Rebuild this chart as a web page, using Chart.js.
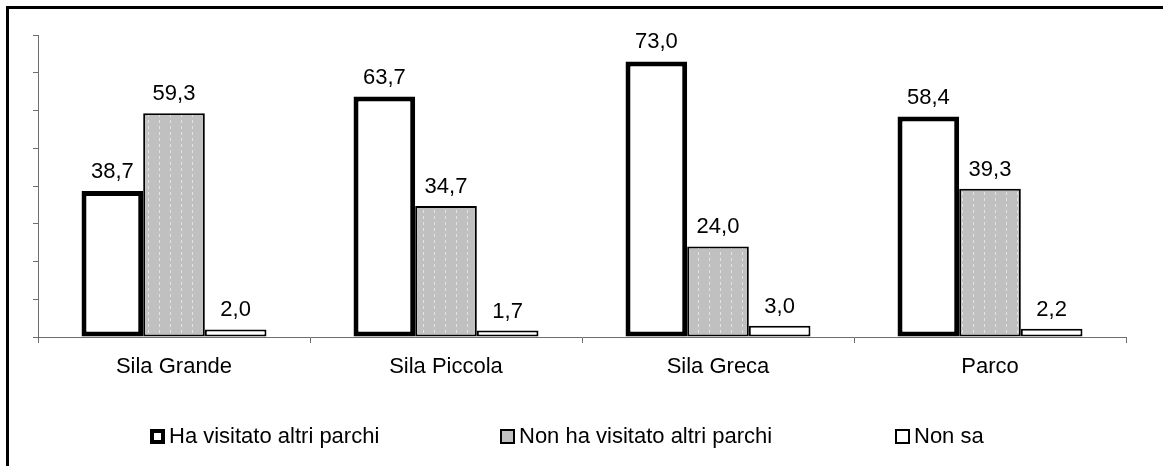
<!DOCTYPE html>
<html>
<head>
<meta charset="utf-8">
<script src="https://cdn.jsdelivr.net/npm/chart.js@4/dist/chart.umd.min.js"></script>
<style>
  html, body { margin: 0; padding: 0; background: #fff; }
  #wrap { position: relative; width: 1163px; height: 466px; overflow: hidden; font-family: "Liberation Sans", Arial, sans-serif; }
  #frame { position: absolute; left: 6px; top: 6px; width: 1200px; height: 500px; border-left: 3px solid #000; border-top: 3px solid #000; box-sizing: border-box; }
  canvas { position: absolute; left: 0; top: 0; }
  .lg { position: absolute; top: 424px; font-size: 22px; color: #000; line-height: 24px; white-space: nowrap; }
  .lg .box { display: inline-block; width: 15px; height: 15px; box-sizing: border-box; border: 2px solid #000; vertical-align: -1px; margin-right: 4px; }
</style>
</head>
<body>
<div id="wrap">
  <div id="frame"></div>
  <canvas id="c" width="1163" height="466"></canvas>
  <div id="legend"></div>
</div>
<script>
const categories = ["Sila Grande", "Sila Piccola", "Sila Greca", "Parco"];
const seriesNames = ["Ha visitato altri parchi", "Non ha visitato altri parchi", "Non sa"];
const haVisitato = [38.7, 63.7, 73.0, 58.4];
const nonHaVisitato = [59.3, 34.7, 24.0, 39.3];
const nonSa = [2.0, 1.7, 3.0, 2.2];
const yMin = 0, yMax = 80, yStep = 10;

const FONT = '"Liberation Sans", Arial, sans-serif';

function makePattern() {
  const p = document.createElement('canvas');
  p.width = 11; p.height = 6;
  const g = p.getContext('2d');
  g.fillStyle = '#c0c0c0';
  g.fillRect(0, 0, 11, 6);
  g.fillStyle = '#e4e4e4';
  g.fillRect(5, 0, 1, 3);
  return g.createPattern(p, 'repeat');
}
const ctx = document.getElementById('c').getContext('2d');
const grayPattern = makePattern();

const valueLabels = {
  id: 'valueLabels',
  afterDatasetsDraw(chart) {
    const c = chart.ctx;
    c.save();
    c.font = '22px ' + FONT;
    c.fillStyle = '#000';
    c.textAlign = 'center';
    c.textBaseline = 'alphabetic';
    chart.data.datasets.forEach((ds, i) => {
      const meta = chart.getDatasetMeta(i);
      meta.data.forEach((el, j) => {
        const v = ds.data[j];
        c.fillText(v.toFixed(1).replace('.', ','), el.x, el.y - 13);
      });
    });
    c.restore();
  }
};

new Chart(ctx, {
  type: 'bar',
  data: {
    labels: categories,
    datasets: [
      { label: seriesNames[0], data: haVisitato, backgroundColor: '#ffffff', borderColor: '#000', borderWidth: 5, borderSkipped: false },
      { label: seriesNames[1], data: nonHaVisitato, backgroundColor: grayPattern, borderColor: '#000', borderWidth: 2, borderSkipped: false },
      { label: seriesNames[2], data: nonSa, backgroundColor: '#ffffff', borderColor: '#000', borderWidth: 2, borderSkipped: false }
    ]
  },
  options: {
    responsive: false,
    animation: false,
    events: [],
    categoryPercentage: 0.68,
    barPercentage: 1.0,
    layout: { padding: { left: 0, top: 35, right: 37, bottom: 69 } },
    plugins: { legend: { display: false }, tooltip: { enabled: false } },
    scales: {
      x: {
        grid: { offset: true, drawOnChartArea: false, drawTicks: true, tickLength: 6, color: '#6e6e6e', lineWidth: 1 },
        border: { display: true, color: '#6e6e6e', width: 1 },
        ticks: { color: '#000', font: { family: FONT, size: 22 }, padding: 11, maxRotation: 0 },
        afterFit(s) { s.height = 60; }
      },
      y: {
        min: yMin, max: yMax,
        ticks: { display: false, stepSize: yStep },
        grid: { drawOnChartArea: false, drawTicks: true, tickLength: 5, color: '#6e6e6e', lineWidth: 1 },
        border: { display: true, color: '#6e6e6e', width: 1 },
        afterFit(s) { s.width = 38; }
      }
    }
  },
  plugins: [valueLabels]
});

// HTML legend
const legendStyles = [
  { left: 150, box: 'border:4px solid #000;background:#fff;' },
  { left: 500, box: 'border:2px solid #000;background:#c0c0c0;' },
  { left: 895, box: 'border:2px solid #000;background:#fff;' }
];
const lg = document.getElementById('legend');
seriesNames.forEach((name, i) => {
  const d = document.createElement('div');
  d.className = 'lg';
  d.style.left = legendStyles[i].left + 'px';
  const b = document.createElement('span');
  b.className = 'box';
  b.style.cssText = legendStyles[i].box;
  d.appendChild(b);
  d.appendChild(document.createTextNode(name));
  lg.appendChild(d);
});
</script>
</body>
</html>
